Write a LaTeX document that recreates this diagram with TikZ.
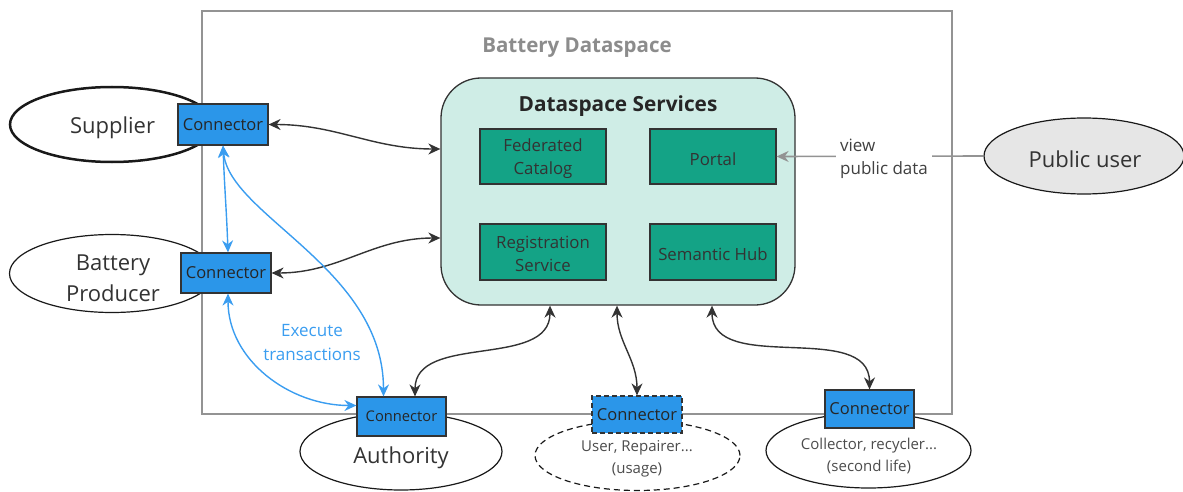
\documentclass[tikz,border=0pt]{standalone}
\usepackage{fontspec}
\setmainfont{Open Sans}
\usetikzlibrary{arrows.meta,shapes.geometric,calc}
\definecolor{conblue}{RGB}{43,150,233}
\definecolor{svcgreen}{RGB}{20,163,134}
\definecolor{dsfill}{RGB}{207,237,230}
\definecolor{arrblue}{RGB}{58,157,240}
\definecolor{pubfill}{RGB}{230,230,230}
\definecolor{darkline}{RGB}{51,51,51}
\begin{document}
\begin{tikzpicture}[x=1pt,y=1pt,
  conn/.style={draw=darkline,line width=1.2pt,fill=conblue,minimum width=90pt,minimum height=40pt,inner sep=0pt,font=\fontsize{16.5}{18}\selectfont,text=black!85},
  svc/.style={draw=darkline,line width=1.2pt,fill=svcgreen,minimum width=126pt,minimum height=55pt,inner sep=0pt},
  svctext/.style={align=center,inner sep=0pt,font=\fontsize{16.8}{23}\selectfont,text=black!80},
  actor/.style={ellipse,draw=black!90,line width=1.2pt,fill=white,inner sep=0pt},
  actortext/.style={align=center,inner sep=0pt,font=\fontsize{22}{31}\selectfont,text=black!80},
  small/.style={align=center,inner sep=0pt,font=\fontsize{15}{22.5}\selectfont,text=black!70},
  darr/.style={{Stealth[length=12pt,width=11pt]}-{Stealth[length=12pt,width=11pt]},line width=1.4pt,draw=darkline},
  barr/.style={{Stealth[length=12pt,width=11pt]}-{Stealth[length=12pt,width=11pt]},line width=1.4pt,draw=arrblue},
  garr/.style={-{Stealth[length=12pt,width=11pt]},line width=1.6pt,draw=gray!85}
]
\useasboundingbox (0,0) rectangle (1183,-492);
% outer dataspace
\node[draw=gray!85,line width=1.5pt,minimum width=750pt,minimum height=403pt,inner sep=0pt] (outer) at (577,-212.5) {};
\node[font=\bfseries\fontsize{20.5}{24}\selectfont,text=gray!90] (ttl) at (577,-47.5) {Battery Dataspace};
% dataspace services
\node[draw=darkline,line width=1.3pt,fill=dsfill,rounded corners=40pt,minimum width=354pt,minimum height=227pt,inner sep=0pt] (ds) at (618,-191.5) {};
\node[font=\bfseries\fontsize{20.8}{24}\selectfont,text=black!85] (dst) at (618,-106) {Dataspace Services};
\node[svc] (fc) at (543,-156.5) {};
\node[svc] (portal) at (713,-156.5) {};
\node[svc,minimum height=56pt] (rs) at (543,-252) {};
\node[svc,minimum height=56pt] (sh) at (713,-252) {};
\node[svctext] (fct) at (543,-159) {Federated\\Catalog};
\node[svctext] (portalt) at (713,-159) {Portal};
\node[svctext] (rst) at (543,-254) {Registration\\Service};
\node[svctext] (sht) at (713,-254) {Semantic Hub};
% actors
\node[actor,line width=2.5pt,minimum width=204pt,minimum height=75pt] (sup) at (112,-124.5) {};
\node[actor,minimum width=205pt,minimum height=78pt] (bp) at (112,-273.5) {};
\node[actor,minimum width=202pt,minimum height=77pt] (auth) at (401,-451.5) {};
\node[actor,dashed,dash pattern=on 6pt off 4pt,minimum width=205pt,minimum height=70pt] (usr) at (637.5,-455.5) {};
\node[actor,minimum width=205pt,minimum height=75pt] (col) at (868.5,-450.5) {};
\node[actor,fill=pubfill,minimum width=200pt,minimum height=76pt] (pub) at (1084,-156) {};
\node[actortext] (supt) at (112.5,-128) {Supplier};
\node[actortext] (bpt) at (113,-278) {Battery\\Producer};
\node[actortext] (autht) at (401,-457.5) {Authority};
\node[actortext] (pubt) at (1085,-159) {Public user};
\node[small] (usrt) at (637,-459) {User, Repairer...\\(usage)};
\node[small] (colt) at (869,-456) {Collector, recycler...\\(second life)};
% connectors
\node[conn,minimum height=41pt] (sc) at (223,-124.5) {Connector};
\node[conn] (bc) at (226,-273) {Connector};
\node[conn,minimum width=89pt,minimum height=39pt,font=\fontsize{14.7}{16}\selectfont] (ac) at (401.5,-416.5) {Connector};
\node[conn,dashed,dash pattern=on 5pt off 3pt,minimum height=37pt] (uc) at (637,-414.5) {Connector};
\node[conn,minimum width=89pt,minimum height=38pt] (cc) at (869.5,-409) {Connector};
% dark arrows
\draw[darr] (sc.east) to[out=0,in=180] ($(ds.west)+(0,42.5)$);
\draw[darr] (bc.east) to[out=0,in=180] ($(ds.west)+(0,-46.5)$);
\draw[darr] ($(ac.north)+(13.5,0)$) to[out=90,in=-90] ($(ds.south)+(-68,0)$);
\draw[darr] (uc.north) to[out=90,in=-90] ($(ds.south)+(-1,0)$);
\draw[darr] (cc.north) to[out=90,in=-90] ($(ds.south)+(94,0)$);
% blue arrows
\draw[barr] (sc.south) to[out=-88,in=92] ($(bc.north)+(2,0)$);
\draw[barr] (sc.south) to[out=-85,in=90,out looseness=0.6,in looseness=1.1] ($(ac.north)+(-18,0)$);
\draw[barr] ($(bc.south)+(2,0)$) to[out=-90,in=180] ($(ac.west)+(0,11)$);
\node[align=center,font=\fontsize{17}{24}\selectfont,text=arrblue] (exec) at (312,-343) {Execute\\transactions};
% public user
\draw[garr] (pub.west) -- (portal.east);
\node[fill=white,align=left,inner sep=4pt,font=\fontsize{17}{23}\selectfont,text=black!75] (view) at (884,-159) {view\\public data};
\end{tikzpicture}
\end{document}
